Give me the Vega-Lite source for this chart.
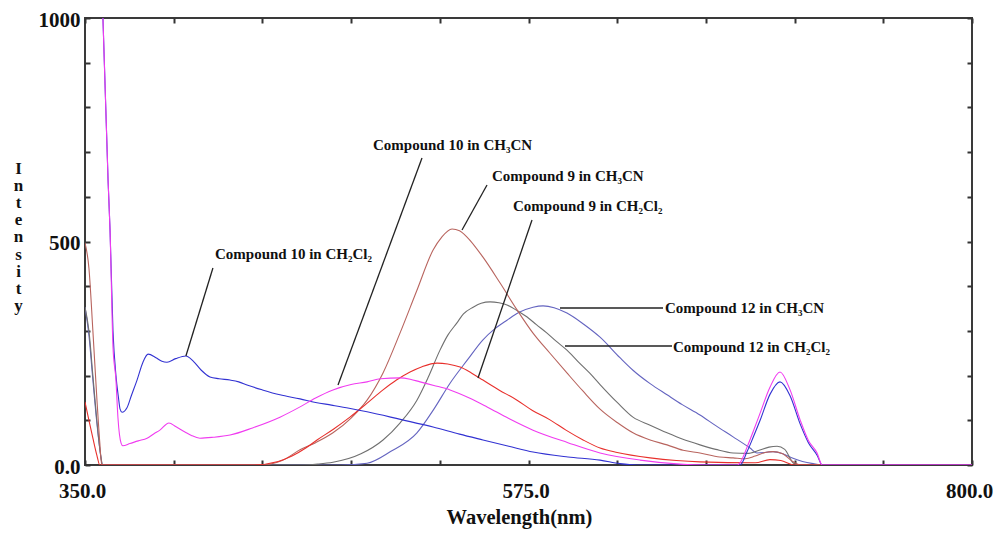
{
  "$schema": "https://vega.github.io/schema/vega-lite/v6.json",
  "width": 887,
  "height": 447,
  "autosize": {"type": "none"},
  "padding": {"left": 85, "top": 18, "right": 21, "bottom": 69},
  "background": "white",
  "config": {"view": {"stroke": "#3a3a3a", "strokeWidth": 2}, "font": "Liberation Serif"},
  "datasets": {
    "curves": [
      {"s":"Compound 12 in CH3CN","wl":350,"v":353},{"s":"Compound 12 in CH3CN","wl":352,"v":290},{"s":"Compound 12 in CH3CN","wl":354,"v":190},{"s":"Compound 12 in CH3CN","wl":356,"v":95},{"s":"Compound 12 in CH3CN","wl":358,"v":20},{"s":"Compound 12 in CH3CN","wl":358.8,"v":0},{"s":"Compound 12 in CH3CN","wl":480,"v":0},{"s":"Compound 12 in CH3CN","wl":493.1,"v":4},{"s":"Compound 12 in CH3CN","wl":505,"v":30},{"s":"Compound 12 in CH3CN","wl":518.4,"v":72},{"s":"Compound 12 in CH3CN","wl":527,"v":125},{"s":"Compound 12 in CH3CN","wl":535.2,"v":183},{"s":"Compound 12 in CH3CN","wl":544,"v":235},{"s":"Compound 12 in CH3CN","wl":551.9,"v":280},{"s":"Compound 12 in CH3CN","wl":558,"v":305},{"s":"Compound 12 in CH3CN","wl":564.1,"v":324},{"s":"Compound 12 in CH3CN","wl":570,"v":341},{"s":"Compound 12 in CH3CN","wl":577.3,"v":353},{"s":"Compound 12 in CH3CN","wl":582.4,"v":356},{"s":"Compound 12 in CH3CN","wl":588,"v":352},{"s":"Compound 12 in CH3CN","wl":594.5,"v":340},{"s":"Compound 12 in CH3CN","wl":603,"v":315},{"s":"Compound 12 in CH3CN","wl":611.3,"v":286},{"s":"Compound 12 in CH3CN","wl":621.4,"v":240},{"s":"Compound 12 in CH3CN","wl":628,"v":212},{"s":"Compound 12 in CH3CN","wl":636.7,"v":182},{"s":"Compound 12 in CH3CN","wl":645.3,"v":157},{"s":"Compound 12 in CH3CN","wl":653,"v":135},{"s":"Compound 12 in CH3CN","wl":662,"v":112},{"s":"Compound 12 in CH3CN","wl":670,"v":88},{"s":"Compound 12 in CH3CN","wl":678.8,"v":63},{"s":"Compound 12 in CH3CN","wl":687.4,"v":38},{"s":"Compound 12 in CH3CN","wl":690.9,"v":27},{"s":"Compound 12 in CH3CN","wl":695,"v":28},{"s":"Compound 12 in CH3CN","wl":699.1,"v":30},{"s":"Compound 12 in CH3CN","wl":704,"v":25},{"s":"Compound 12 in CH3CN","wl":709.2,"v":15},{"s":"Compound 12 in CH3CN","wl":714,"v":8},{"s":"Compound 12 in CH3CN","wl":719.4,"v":3},{"s":"Compound 12 in CH3CN","wl":724,"v":0},{"s":"Compound 12 in CH3CN","wl":800,"v":0},

      {"s":"Compound 12 in CH2Cl2","wl":350,"v":353},{"s":"Compound 12 in CH2Cl2","wl":352,"v":300},{"s":"Compound 12 in CH2Cl2","wl":354,"v":200},{"s":"Compound 12 in CH2Cl2","wl":356,"v":100},{"s":"Compound 12 in CH2Cl2","wl":358,"v":20},{"s":"Compound 12 in CH2Cl2","wl":359,"v":0},{"s":"Compound 12 in CH2Cl2","wl":460,"v":0},{"s":"Compound 12 in CH2Cl2","wl":468,"v":2},{"s":"Compound 12 in CH2Cl2","wl":475.8,"v":6},{"s":"Compound 12 in CH2Cl2","wl":490,"v":25},{"s":"Compound 12 in CH2Cl2","wl":501.2,"v":56},{"s":"Compound 12 in CH2Cl2","wl":510,"v":95},{"s":"Compound 12 in CH2Cl2","wl":518.4,"v":145},{"s":"Compound 12 in CH2Cl2","wl":524,"v":195},{"s":"Compound 12 in CH2Cl2","wl":530.1,"v":257},{"s":"Compound 12 in CH2Cl2","wl":534,"v":290},{"s":"Compound 12 in CH2Cl2","wl":538.7,"v":318},{"s":"Compound 12 in CH2Cl2","wl":542,"v":338},{"s":"Compound 12 in CH2Cl2","wl":546.9,"v":353},{"s":"Compound 12 in CH2Cl2","wl":551,"v":362},{"s":"Compound 12 in CH2Cl2","wl":555.5,"v":365},{"s":"Compound 12 in CH2Cl2","wl":560,"v":363},{"s":"Compound 12 in CH2Cl2","wl":564.1,"v":358},{"s":"Compound 12 in CH2Cl2","wl":569,"v":346},{"s":"Compound 12 in CH2Cl2","wl":574.3,"v":331},{"s":"Compound 12 in CH2Cl2","wl":579,"v":314},{"s":"Compound 12 in CH2Cl2","wl":584.4,"v":295},{"s":"Compound 12 in CH2Cl2","wl":589,"v":277},{"s":"Compound 12 in CH2Cl2","wl":594.5,"v":257},{"s":"Compound 12 in CH2Cl2","wl":600,"v":232},{"s":"Compound 12 in CH2Cl2","wl":606.2,"v":205},{"s":"Compound 12 in CH2Cl2","wl":611.3,"v":180},{"s":"Compound 12 in CH2Cl2","wl":620,"v":140},{"s":"Compound 12 in CH2Cl2","wl":628,"v":107},{"s":"Compound 12 in CH2Cl2","wl":636.7,"v":89},{"s":"Compound 12 in CH2Cl2","wl":645.3,"v":72},{"s":"Compound 12 in CH2Cl2","wl":653,"v":58},{"s":"Compound 12 in CH2Cl2","wl":662,"v":45},{"s":"Compound 12 in CH2Cl2","wl":670,"v":35},{"s":"Compound 12 in CH2Cl2","wl":678.8,"v":27},{"s":"Compound 12 in CH2Cl2","wl":686,"v":26},{"s":"Compound 12 in CH2Cl2","wl":692,"v":33},{"s":"Compound 12 in CH2Cl2","wl":697,"v":40},{"s":"Compound 12 in CH2Cl2","wl":701.1,"v":42},{"s":"Compound 12 in CH2Cl2","wl":705,"v":35},{"s":"Compound 12 in CH2Cl2","wl":709.2,"v":5},{"s":"Compound 12 in CH2Cl2","wl":712,"v":0},{"s":"Compound 12 in CH2Cl2","wl":800,"v":0},

      {"s":"Compound 9 in CH3CN","wl":350,"v":497},{"s":"Compound 9 in CH3CN","wl":352,"v":440},{"s":"Compound 9 in CH3CN","wl":354,"v":300},{"s":"Compound 9 in CH3CN","wl":356,"v":150},{"s":"Compound 9 in CH3CN","wl":357.5,"v":50},{"s":"Compound 9 in CH3CN","wl":358.5,"v":0},{"s":"Compound 9 in CH3CN","wl":440,"v":0},{"s":"Compound 9 in CH3CN","wl":450,"v":10},{"s":"Compound 9 in CH3CN","wl":459.1,"v":34},{"s":"Compound 9 in CH3CN","wl":467,"v":50},{"s":"Compound 9 in CH3CN","wl":475.8,"v":72},{"s":"Compound 9 in CH3CN","wl":485,"v":105},{"s":"Compound 9 in CH3CN","wl":493.1,"v":145},{"s":"Compound 9 in CH3CN","wl":501.2,"v":206},{"s":"Compound 9 in CH3CN","wl":509.8,"v":295},{"s":"Compound 9 in CH3CN","wl":518.4,"v":391},{"s":"Compound 9 in CH3CN","wl":526.6,"v":481},{"s":"Compound 9 in CH3CN","wl":531,"v":510},{"s":"Compound 9 in CH3CN","wl":536.2,"v":528},{"s":"Compound 9 in CH3CN","wl":540,"v":524},{"s":"Compound 9 in CH3CN","wl":543.8,"v":510},{"s":"Compound 9 in CH3CN","wl":551.9,"v":465},{"s":"Compound 9 in CH3CN","wl":560.6,"v":407},{"s":"Compound 9 in CH3CN","wl":569.2,"v":347},{"s":"Compound 9 in CH3CN","wl":577.3,"v":295},{"s":"Compound 9 in CH3CN","wl":585.9,"v":250},{"s":"Compound 9 in CH3CN","wl":594.5,"v":206},{"s":"Compound 9 in CH3CN","wl":602.7,"v":165},{"s":"Compound 9 in CH3CN","wl":611.3,"v":125},{"s":"Compound 9 in CH3CN","wl":620,"v":95},{"s":"Compound 9 in CH3CN","wl":628,"v":72},{"s":"Compound 9 in CH3CN","wl":636.7,"v":56},{"s":"Compound 9 in CH3CN","wl":645.3,"v":45},{"s":"Compound 9 in CH3CN","wl":653.4,"v":33},{"s":"Compound 9 in CH3CN","wl":662,"v":27},{"s":"Compound 9 in CH3CN","wl":672,"v":18},{"s":"Compound 9 in CH3CN","wl":678.8,"v":16},{"s":"Compound 9 in CH3CN","wl":685,"v":14},{"s":"Compound 9 in CH3CN","wl":690,"v":20},{"s":"Compound 9 in CH3CN","wl":695,"v":28},{"s":"Compound 9 in CH3CN","wl":699,"v":30},{"s":"Compound 9 in CH3CN","wl":704,"v":25},{"s":"Compound 9 in CH3CN","wl":709,"v":8},{"s":"Compound 9 in CH3CN","wl":713,"v":0},{"s":"Compound 9 in CH3CN","wl":800,"v":0},

      {"s":"Compound 9 in CH2Cl2","wl":350,"v":141},{"s":"Compound 9 in CH2Cl2","wl":352,"v":100},{"s":"Compound 9 in CH2Cl2","wl":354,"v":60},{"s":"Compound 9 in CH2Cl2","wl":356,"v":22},{"s":"Compound 9 in CH2Cl2","wl":357.5,"v":0},{"s":"Compound 9 in CH2Cl2","wl":435,"v":0},{"s":"Compound 9 in CH2Cl2","wl":448,"v":8},{"s":"Compound 9 in CH2Cl2","wl":455,"v":20},{"s":"Compound 9 in CH2Cl2","wl":462,"v":38},{"s":"Compound 9 in CH2Cl2","wl":467.7,"v":56},{"s":"Compound 9 in CH2Cl2","wl":476,"v":80},{"s":"Compound 9 in CH2Cl2","wl":484.4,"v":107},{"s":"Compound 9 in CH2Cl2","wl":493,"v":138},{"s":"Compound 9 in CH2Cl2","wl":501.2,"v":168},{"s":"Compound 9 in CH2Cl2","wl":508,"v":190},{"s":"Compound 9 in CH2Cl2","wl":514.9,"v":208},{"s":"Compound 9 in CH2Cl2","wl":521,"v":220},{"s":"Compound 9 in CH2Cl2","wl":528.6,"v":228},{"s":"Compound 9 in CH2Cl2","wl":534,"v":226},{"s":"Compound 9 in CH2Cl2","wl":540.3,"v":219},{"s":"Compound 9 in CH2Cl2","wl":546,"v":206},{"s":"Compound 9 in CH2Cl2","wl":551.9,"v":190},{"s":"Compound 9 in CH2Cl2","wl":560,"v":168},{"s":"Compound 9 in CH2Cl2","wl":569.2,"v":145},{"s":"Compound 9 in CH2Cl2","wl":577,"v":122},{"s":"Compound 9 in CH2Cl2","wl":585.9,"v":101},{"s":"Compound 9 in CH2Cl2","wl":594,"v":78},{"s":"Compound 9 in CH2Cl2","wl":602.7,"v":56},{"s":"Compound 9 in CH2Cl2","wl":611.3,"v":38},{"s":"Compound 9 in CH2Cl2","wl":620,"v":28},{"s":"Compound 9 in CH2Cl2","wl":636.7,"v":16},{"s":"Compound 9 in CH2Cl2","wl":650,"v":10},{"s":"Compound 9 in CH2Cl2","wl":662,"v":7},{"s":"Compound 9 in CH2Cl2","wl":690,"v":5},{"s":"Compound 9 in CH2Cl2","wl":697.5,"v":12},{"s":"Compound 9 in CH2Cl2","wl":703,"v":10},{"s":"Compound 9 in CH2Cl2","wl":710,"v":0},{"s":"Compound 9 in CH2Cl2","wl":800,"v":0},

      {"s":"Compound 10 in CH2Cl2","wl":359.1,"v":1000},{"s":"Compound 10 in CH2Cl2","wl":361.7,"v":637},{"s":"Compound 10 in CH2Cl2","wl":362.7,"v":526},{"s":"Compound 10 in CH2Cl2","wl":364.2,"v":300},{"s":"Compound 10 in CH2Cl2","wl":365.7,"v":200},{"s":"Compound 10 in CH2Cl2","wl":367,"v":150},{"s":"Compound 10 in CH2Cl2","wl":367.8,"v":125},{"s":"Compound 10 in CH2Cl2","wl":368.8,"v":118},{"s":"Compound 10 in CH2Cl2","wl":371.3,"v":128},{"s":"Compound 10 in CH2Cl2","wl":373.5,"v":155},{"s":"Compound 10 in CH2Cl2","wl":376.4,"v":190},{"s":"Compound 10 in CH2Cl2","wl":379.4,"v":230},{"s":"Compound 10 in CH2Cl2","wl":382,"v":248},{"s":"Compound 10 in CH2Cl2","wl":386,"v":240},{"s":"Compound 10 in CH2Cl2","wl":389,"v":232},{"s":"Compound 10 in CH2Cl2","wl":391.6,"v":230},{"s":"Compound 10 in CH2Cl2","wl":396,"v":238},{"s":"Compound 10 in CH2Cl2","wl":401.2,"v":244},{"s":"Compound 10 in CH2Cl2","wl":405,"v":232},{"s":"Compound 10 in CH2Cl2","wl":409,"v":212},{"s":"Compound 10 in CH2Cl2","wl":413.4,"v":197},{"s":"Compound 10 in CH2Cl2","wl":418,"v":193},{"s":"Compound 10 in CH2Cl2","wl":423.6,"v":190},{"s":"Compound 10 in CH2Cl2","wl":428,"v":186},{"s":"Compound 10 in CH2Cl2","wl":432.2,"v":179},{"s":"Compound 10 in CH2Cl2","wl":440,"v":168},{"s":"Compound 10 in CH2Cl2","wl":448.9,"v":157},{"s":"Compound 10 in CH2Cl2","wl":459.1,"v":148},{"s":"Compound 10 in CH2Cl2","wl":467,"v":140},{"s":"Compound 10 in CH2Cl2","wl":475,"v":134},{"s":"Compound 10 in CH2Cl2","wl":484,"v":127},{"s":"Compound 10 in CH2Cl2","wl":493.1,"v":119},{"s":"Compound 10 in CH2Cl2","wl":510,"v":102},{"s":"Compound 10 in CH2Cl2","wl":526.6,"v":85},{"s":"Compound 10 in CH2Cl2","wl":540,"v":69},{"s":"Compound 10 in CH2Cl2","wl":551.9,"v":56},{"s":"Compound 10 in CH2Cl2","wl":565,"v":42},{"s":"Compound 10 in CH2Cl2","wl":577.3,"v":29},{"s":"Compound 10 in CH2Cl2","wl":595,"v":18},{"s":"Compound 10 in CH2Cl2","wl":611.3,"v":11},{"s":"Compound 10 in CH2Cl2","wl":621.4,"v":3},{"s":"Compound 10 in CH2Cl2","wl":630,"v":0},{"s":"Compound 10 in CH2Cl2","wl":682.3,"v":0},{"s":"Compound 10 in CH2Cl2","wl":685.9,"v":30},{"s":"Compound 10 in CH2Cl2","wl":689,"v":62},{"s":"Compound 10 in CH2Cl2","wl":692.5,"v":100},{"s":"Compound 10 in CH2Cl2","wl":697.5,"v":158},{"s":"Compound 10 in CH2Cl2","wl":702.6,"v":186},{"s":"Compound 10 in CH2Cl2","wl":707.7,"v":155},{"s":"Compound 10 in CH2Cl2","wl":712.8,"v":92},{"s":"Compound 10 in CH2Cl2","wl":717,"v":50},{"s":"Compound 10 in CH2Cl2","wl":721.4,"v":22},{"s":"Compound 10 in CH2Cl2","wl":724,"v":0},{"s":"Compound 10 in CH2Cl2","wl":800,"v":0},

      {"s":"Compound 10 in CH3CN","wl":359.1,"v":1000},{"s":"Compound 10 in CH3CN","wl":361.7,"v":637},{"s":"Compound 10 in CH3CN","wl":362.7,"v":526},{"s":"Compound 10 in CH3CN","wl":364.2,"v":264},{"s":"Compound 10 in CH3CN","wl":365.7,"v":190},{"s":"Compound 10 in CH3CN","wl":366.7,"v":107},{"s":"Compound 10 in CH3CN","wl":368.3,"v":49},{"s":"Compound 10 in CH3CN","wl":369.2,"v":43},{"s":"Compound 10 in CH3CN","wl":372.8,"v":48},{"s":"Compound 10 in CH3CN","wl":377,"v":54},{"s":"Compound 10 in CH3CN","wl":381.5,"v":60},{"s":"Compound 10 in CH3CN","wl":385,"v":70},{"s":"Compound 10 in CH3CN","wl":388,"v":78},{"s":"Compound 10 in CH3CN","wl":392.6,"v":94},{"s":"Compound 10 in CH3CN","wl":396,"v":86},{"s":"Compound 10 in CH3CN","wl":400.7,"v":74},{"s":"Compound 10 in CH3CN","wl":404,"v":66},{"s":"Compound 10 in CH3CN","wl":408.3,"v":60},{"s":"Compound 10 in CH3CN","wl":415,"v":62},{"s":"Compound 10 in CH3CN","wl":423.6,"v":67},{"s":"Compound 10 in CH3CN","wl":435,"v":83},{"s":"Compound 10 in CH3CN","wl":448.9,"v":107},{"s":"Compound 10 in CH3CN","wl":459.1,"v":130},{"s":"Compound 10 in CH3CN","wl":467,"v":150},{"s":"Compound 10 in CH3CN","wl":475.8,"v":168},{"s":"Compound 10 in CH3CN","wl":485,"v":180},{"s":"Compound 10 in CH3CN","wl":493.1,"v":186},{"s":"Compound 10 in CH3CN","wl":500,"v":193},{"s":"Compound 10 in CH3CN","wl":509.8,"v":195},{"s":"Compound 10 in CH3CN","wl":515,"v":192},{"s":"Compound 10 in CH3CN","wl":520,"v":186},{"s":"Compound 10 in CH3CN","wl":527,"v":178},{"s":"Compound 10 in CH3CN","wl":535.2,"v":168},{"s":"Compound 10 in CH3CN","wl":545,"v":150},{"s":"Compound 10 in CH3CN","wl":554,"v":130},{"s":"Compound 10 in CH3CN","wl":565,"v":104},{"s":"Compound 10 in CH3CN","wl":577.3,"v":78},{"s":"Compound 10 in CH3CN","wl":595,"v":50},{"s":"Compound 10 in CH3CN","wl":611.3,"v":27},{"s":"Compound 10 in CH3CN","wl":631.6,"v":11},{"s":"Compound 10 in CH3CN","wl":651.9,"v":2},{"s":"Compound 10 in CH3CN","wl":665,"v":0},{"s":"Compound 10 in CH3CN","wl":681,"v":0},{"s":"Compound 10 in CH3CN","wl":682.3,"v":5},{"s":"Compound 10 in CH3CN","wl":685.9,"v":40},{"s":"Compound 10 in CH3CN","wl":689,"v":75},{"s":"Compound 10 in CH3CN","wl":692.5,"v":116},{"s":"Compound 10 in CH3CN","wl":697.5,"v":174},{"s":"Compound 10 in CH3CN","wl":702.6,"v":208},{"s":"Compound 10 in CH3CN","wl":707.7,"v":168},{"s":"Compound 10 in CH3CN","wl":712.8,"v":101},{"s":"Compound 10 in CH3CN","wl":717,"v":55},{"s":"Compound 10 in CH3CN","wl":721.4,"v":27},{"s":"Compound 10 in CH3CN","wl":724,"v":0},{"s":"Compound 10 in CH3CN","wl":800,"v":0}
    ],
    "leaders": [
      {"x1":414.9,"y1":440.7,"x2":401.2,"y2":243.8},
      {"x1":520.97,"y1":686.8,"x2":478.36,"y2":179.0},
      {"x1":553.95,"y1":626.4,"x2":541.27,"y2":525.7},
      {"x1":576.78,"y1":548.1,"x2":549.38,"y2":194.6},
      {"x1":590.98,"y1":351.2,"x2":643.24,"y2":351.2},
      {"x1":593.52,"y1":266.2,"x2":647.81,"y2":266.2}
    ],
    "notes": [
      {"t":"Compound 10 in CH₂Cl₂","x":415.95,"y":472.0},
      {"t":"Compound 10 in CH₃CN","x":496.11,"y":715.9},
      {"t":"Compound 9 in CH₃CN","x":556.48,"y":646.5},
      {"t":"Compound 9 in CH₂Cl₂","x":567.13,"y":579.4},
      {"t":"Compound 12 in CH₃CN","x":644.26,"y":351.2},
      {"t":"Compound 12 in CH₂Cl₂","x":648.31,"y":264.0}
    ]
  },
  "layer": [
    {
      "data": {"name": "curves"},
      "mark": {"type": "line", "clip": true, "interpolate": "monotone"},
      "encoding": {
        "x": {"field": "wl", "type": "quantitative", "scale": {"domain": [350, 800], "nice": false, "zero": false},
          "axis": {"orient": "bottom", "values": [350,395,440,485,530,575,620,665,710,755,800],
            "labelExpr": "datum.value==350?'350.0':datum.value==575?'575.0':datum.value==800?'800.0':''",
            "tickSize": -5, "tickColor": "#333", "tickWidth": 2, "domain": false, "grid": false,
            "labelFont": "Liberation Serif", "labelFontWeight": "bold", "labelFontSize": 21, "labelColor": "#111",
            "labelPadding": 20, "labelFlush": false, "labelOverlap": false, "labelOffset": -3,
            "title": "Wavelength(nm)", "titleFont": "Liberation Serif", "titleFontSize": 20.5, "titleFontWeight": "bold",
            "titleColor": "#111", "titleX": 434, "titleY": 58, "titleBaseline": "alphabetic", "titleAlign": "center"}},
        "y": {"field": "v", "type": "quantitative", "scale": {"domain": [0, 1000], "nice": false},
          "axis": {"orient": "left", "values": [0,100,200,300,400,500,600,700,800,900,1000],
            "labelExpr": "datum.value==0?'0.0':datum.value==500?'500':datum.value==1000?'1000':''",
            "tickSize": -5, "tickColor": "#333", "tickWidth": 2, "domain": false, "grid": false,
            "labelFont": "Liberation Serif", "labelFontWeight": "bold", "labelFontSize": 21, "labelColor": "#111",
            "labelPadding": 10, "labelFlush": false, "labelOverlap": false, "labelOffset": 2,
            "title": ["I","n","t","e","n","s","i","t","y"], "titleAngle": 0, "titleFont": "Liberation Serif", "titleFontSize": 17,
            "titleFontWeight": "bold", "titleColor": "#111", "titleLineHeight": 17.2, "titleX": -67, "titleY": 155,
            "titleAlign": "center", "titleBaseline": "alphabetic"}},
        "color": {"field": "s", "type": "nominal", "legend": null,
          "scale": {"domain": ["Compound 12 in CH3CN","Compound 12 in CH2Cl2","Compound 9 in CH3CN","Compound 9 in CH2Cl2","Compound 10 in CH2Cl2","Compound 10 in CH3CN"],
                    "range": ["#6464c0","#707070","#b8645e","#e8302c","#3232d2","#f03cf0"]}},
        "strokeWidth": {"field": "s", "type": "nominal", "legend": null,
          "scale": {"domain": ["Compound 12 in CH3CN","Compound 12 in CH2Cl2","Compound 9 in CH3CN","Compound 9 in CH2Cl2","Compound 10 in CH2Cl2","Compound 10 in CH3CN"],
                    "range": [1.1,1.1,1.1,1.7,1.7,1.7]}}
      }
    },
    {
      "data": {"name": "leaders"},
      "mark": {"type": "rule", "color": "#222", "strokeWidth": 1.3},
      "encoding": {
        "x": {"field": "x1", "type": "quantitative", "scale": {"domain": [350, 800], "nice": false, "zero": false}, "axis": null},
        "y": {"field": "y1", "type": "quantitative", "scale": {"domain": [0, 1000], "nice": false}, "axis": null},
        "x2": {"field": "x2"},
        "y2": {"field": "y2"}
      }
    },
    {
      "data": {"name": "notes"},
      "mark": {"type": "text", "align": "left", "baseline": "middle", "fontSize": 15, "fontWeight": "bold", "font": "Liberation Serif", "color": "#111"},
      "encoding": {
        "x": {"field": "x", "type": "quantitative", "scale": {"domain": [350, 800], "nice": false, "zero": false}, "axis": null},
        "y": {"field": "y", "type": "quantitative", "scale": {"domain": [0, 1000], "nice": false}, "axis": null},
        "text": {"field": "t"}
      }
    },
    {
      "data": {"name": "curves"},
      "mark": {"type": "point", "opacity": 0},
      "encoding": {
        "x": {"field": "wl", "type": "quantitative", "scale": {"domain": [350, 800], "nice": false, "zero": false},
          "axis": {"orient": "top", "values": [350,395,440,485,530,575,620,665,710,755,800], "labels": false, "title": null,
            "tickSize": -5, "tickColor": "#333", "tickWidth": 2, "domain": false, "grid": false}},
        "y": {"field": "v", "type": "quantitative", "scale": {"domain": [0, 1000], "nice": false},
          "axis": {"orient": "right", "values": [0,100,200,300,400,500,600,700,800,900,1000], "labels": false, "title": null,
            "tickSize": -5, "tickColor": "#333", "tickWidth": 2, "domain": false, "grid": false}}
      }
    }
  ],
  "resolve": {"axis": {"x": "independent", "y": "independent"}}
}
